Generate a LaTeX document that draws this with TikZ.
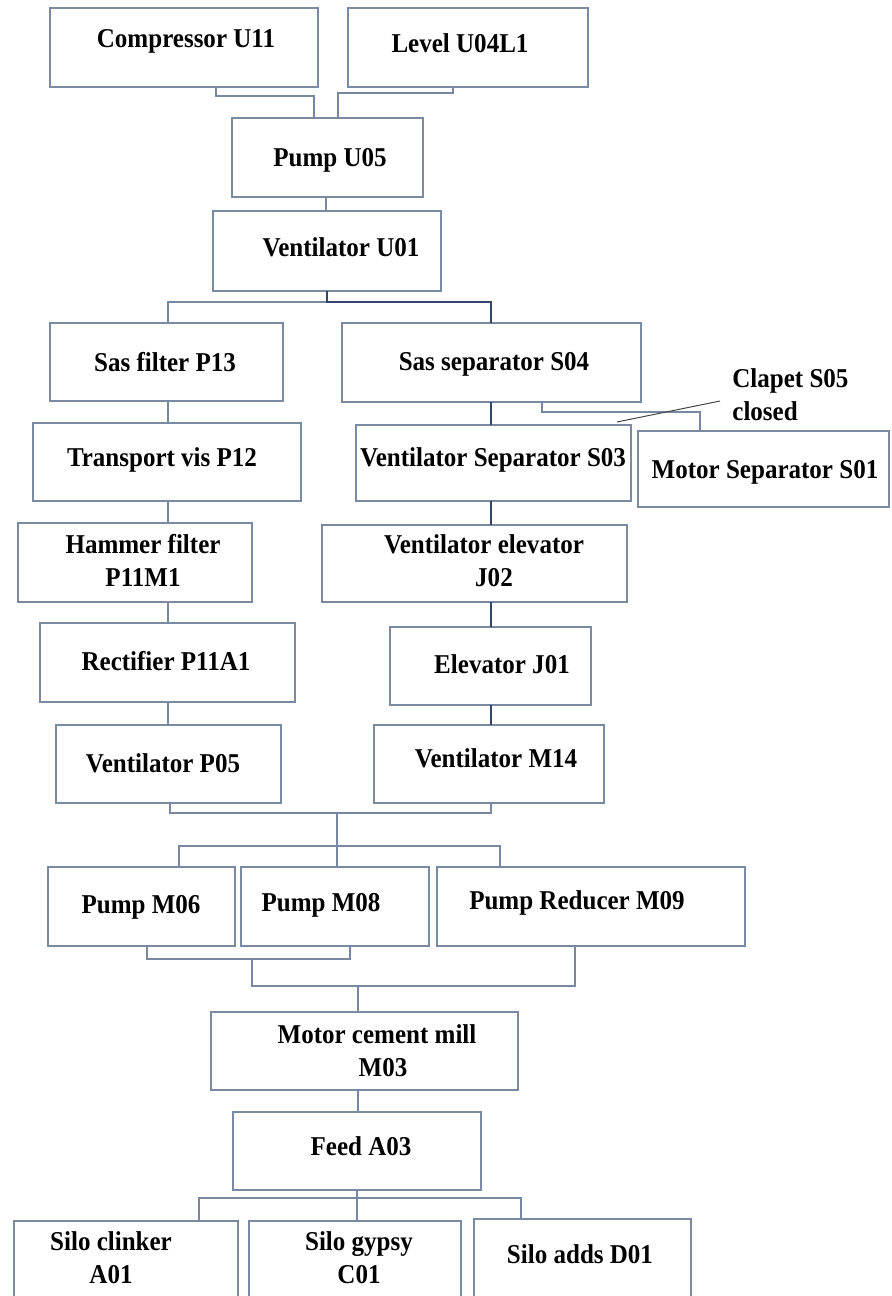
\documentclass[tikz,border=0pt]{standalone}
\usepackage{fontspec}
\setmainfont{Liberation Serif}[FakeStretch=0.92]
\usetikzlibrary{calc}
\definecolor{boxc}{RGB}{122,138,163}
\definecolor{connc}{RGB}{120,136,162}
\definecolor{connd}{RGB}{50,70,105}
\definecolor{leadc}{RGB}{70,70,70}
\tikzset{
  bx/.style n args={4}{draw=boxc, line width=0.9pt, rectangle, inner sep=0pt, outer sep=0pt,
    minimum width={(#3-#1)*0.5pt}, minimum height={(#4-#2)*0.5pt},
    at={({(#1+#3)/2},{(#2+#4)/2})}},
  lbl/.style={font=\bfseries\fontsize{13.6}{16.5}\selectfont, inner sep=0pt, anchor=base, align=center, text=black},
  conn/.style={draw=connc, line width=0.8pt},
  connr/.style={draw=connd, line width=0.7pt},
  lead/.style={draw=leadc, line width=0.5pt},
}
\begin{document}
\begin{tikzpicture}[x=0.5pt,y=-0.5pt]
\path[use as bounding box] (0,0) rectangle (891,1296);
\clip (0,0) rectangle (891,1296);
% boxes
\node[bx={50}{8}{318}{87}] (cmp) {};
\node[bx={348}{8}{588}{87}] (lvl) {};
\node[bx={232}{118}{423}{197}] (pmp) {};
\node[bx={213}{211}{441}{291}] (vu01) {};
\node[bx={50}{323}{283}{401}] (sf) {};
\node[bx={342}{323}{641}{402}] (ss) {};
\node[bx={33}{423}{301}{501}] (tv) {};
\node[bx={356}{425}{631}{501}] (vs03) {};
\node[bx={638}{431}{889}{507}] (ms01) {};
\node[bx={18}{523}{252}{602}] (hf) {};
\node[bx={322}{525}{627}{602}] (j02) {};
\node[bx={40}{623}{295}{702}] (rect) {};
\node[bx={390}{627}{591}{705}] (j01) {};
\node[bx={56}{725}{281}{803}] (vp05) {};
\node[bx={374}{725}{604}{803}] (m14) {};
\node[bx={48}{867}{235}{946}] (m06) {};
\node[bx={241}{867}{429}{946}] (m08) {};
\node[bx={437}{867}{745}{946}] (m09) {};
\node[bx={211}{1012}{518}{1090}] (mcm) {};
\node[bx={233}{1112}{481}{1190}] (feed) {};
\node[bx={14}{1221}{238}{1320}] (s1) {};
\node[bx={249}{1221}{461}{1320}] (s2) {};
\node[bx={474}{1219}{691}{1320}] (s3) {};
% top connectors
\draw[conn] ($(cmp.south west)+(166,0)$) |- ($(pmp.north west)+(82,-22)$) -- ($(pmp.north west)+(82,0)$);
\draw[conn] ($(lvl.south west)+(105,0)$) |- ($(pmp.north west)+(106,-25)$) -- ($(pmp.north west)+(106,0)$);
\draw[conn] ($(pmp.south west)+(94,0)$) -- ($(vu01.north west)+(113,0)$);
\draw[conn] (vu01.south) -- ++(0,11) -| ($(sf.north west)+(118,0)$);
\draw[connr] (vu01.south) -- ++(0,11) -| ($(ss.north west)+(149,0)$);
% left column
\draw[conn] ($(sf.south west)+(118,0)$) -- ($(tv.north west)+(135,0)$);
\draw[conn] ($(tv.south west)+(135,0)$) -- ($(hf.north west)+(150,0)$);
\draw[conn] ($(hf.south west)+(150,0)$) -- ($(rect.north west)+(128,0)$);
\draw[conn] ($(rect.south west)+(128,0)$) -- ($(vp05.north west)+(112,0)$);
% right column
\draw[connr] ($(ss.south west)+(149,0)$) -- ($(vs03.north west)+(135,0)$);
\draw[connr] ($(vs03.south west)+(135,0)$) -- ($(j02.north west)+(169,0)$);
\draw[connr] ($(j02.south west)+(169,0)$) -- ($(j01.north west)+(101,0)$);
\draw[connr] ($(j01.south west)+(101,0)$) -- ($(m14.north west)+(117,0)$);
\draw[conn] ($(ss.south west)+(200,0)$) |- ($(ms01.north west)+(62,-19)$) -- ($(ms01.north west)+(62,0)$);
% pumps
\draw[conn] ($(vp05.south west)+(114,0)$) |- ($(m14.south west)+(117,10)$) -- ($(m14.south west)+(117,0)$);
\coordinate (j1) at ($(m08.north west)+(96,-54)$);
\draw[conn] (j1) -- ($(m08.north west)+(96,0)$);
\draw[conn] ($(m06.north west)+(131,0)$) |- ($(m09.north west)+(63,-21)$) -- ($(m09.north west)+(63,0)$);
\draw[conn] ($(m06.south west)+(99,0)$) |- ($(m08.south west)+(109,13)$) -- ($(m08.south west)+(109,0)$);
\coordinate (j2) at ($(m06.south west)+(204,13)$);
\draw[conn] (j2) |- ($(m09.south west)+(138,40)$) -- ($(m09.south west)+(138,0)$);
\coordinate (j3) at ($(mcm.north west)+(147,-26)$);
\draw[conn] (j3) -- ($(mcm.north west)+(147,0)$);
\draw[conn] ($(mcm.south west)+(147,0)$) -- ($(feed.north west)+(125,0)$);
\draw[conn] (feed.south) -- ++(0,8) -| ($(s1.north west)+(185,0)$);
\draw[conn] (feed.south) -- ++(0,8) -| ($(s3.north west)+(47,0)$);
\draw[conn] (feed.south) -- ($(s2.north west)+(108,0)$);
% texts (two-line nodes: base = last line)
\node[lbl] (tcmp) at (186,47) {Compressor U11};
\node[lbl] (tlvl) at (460,52) {Level U04L1};
\node[lbl] (tpmp) at (330,166) {Pump U05};
\node[lbl] (tvu01) at (341,256) {Ventilator U01};
\node[lbl] (tsf) at (165,371) {Sas filter P13};
\node[lbl] (tss) at (494,370) {Sas separator S04};
\node[lbl, anchor=base west, align=left] (tclap) at (732,420) {Clapet S05\\closed};
\node[lbl] (ttv) at (162,466) {Transport vis P12};
\node[lbl] (tvs03) at (493,466) {Ventilator Separator S03};
\node[lbl] (tms01) at (765,478) {Motor Separator S01};
\node[lbl] (thf) at (143,586) {Hammer filter\\P11M1};
\node[lbl] (tj02) at (484,586) {Ventilator elevator\\\hspace*{10pt}J02};
\node[lbl] (trect) at (166,670) {Rectifier P11A1};
\node[lbl] (tj01) at (502,673) {Elevator J01};
\node[lbl] (tvp05) at (163,772) {Ventilator P05};
\node[lbl] (tm14) at (496,767) {Ventilator M14};
\node[lbl] (tm06) at (141,913) {Pump M06};
\node[lbl] (tm08) at (321,911) {Pump M08};
\node[lbl] (tm09) at (577,909) {Pump Reducer M09};
\node[lbl] (tmcm) at (377,1076) {Motor cement mill\\\hspace*{6pt}M03};
\node[lbl] (tfeed) at (361,1155) {Feed A03};
\node[lbl] (ts1) at (111,1283) {Silo clinker\\A01};
\node[lbl] (ts2) at (359,1283) {Silo gypsy\\C01};
\node[lbl] (ts3) at (580,1263) {Silo adds D01};
% leader
\draw[lead] ($(vs03.north east)+(-14,-3)$) -- ($(tclap.base west)+(-12,-19)$);
\end{tikzpicture}
\end{document}
